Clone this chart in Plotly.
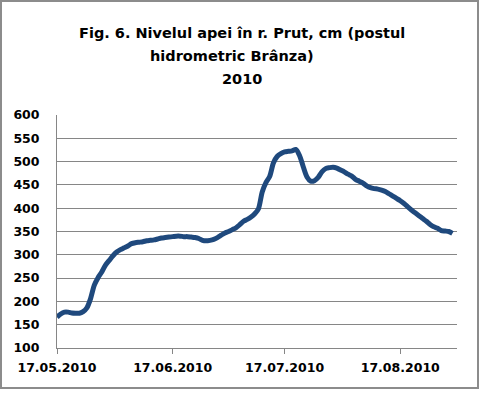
import plotly.graph_objects as go
import pandas as pd

title_lines = ["Fig. 6. Nivelul apei în r. Prut, cm (postul", "hidrometric Brânza)", "2010"]
start_date = "2010-05-17"
water_level = [
    166, 173, 177, 177, 175, 174.5, 174.5, 178, 186, 206,
    235, 251, 263, 278, 288, 298, 306, 311, 315, 319,
    324, 326, 327, 328, 330, 331, 332, 334, 336, 337,
    338, 339, 340, 340, 339, 339, 338, 337, 335, 331,
    330, 331, 333, 337, 342, 347, 350, 354, 358, 365,
    372, 376, 381, 388, 399, 435, 455, 468, 497, 511,
    517, 521, 522, 523, 526, 513, 489, 467, 458, 459,
    466, 478, 485, 487, 488, 486, 482, 478, 473, 469,
    462, 458, 454, 448, 444, 442, 441, 439, 436, 431,
    426, 421, 416, 410, 403, 396, 390, 384, 378, 372,
    365, 360, 357, 352, 351, 350, 346,
]
tick_dates = ["2010-05-17", "2010-06-17", "2010-07-17", "2010-08-17"]
tick_labels = ["17.05.2010", "17.06.2010", "17.07.2010", "17.08.2010"]
y_ticks = [100, 150, 200, 250, 300, 350, 400, 450, 500, 550, 600]

dates = pd.date_range(start_date, periods=len(water_level), freq="D")

fig = go.Figure()
fig.add_trace(go.Scatter(
    x=dates, y=water_level, mode="lines",
    line=dict(color="#1F497D", width=5, shape="spline", smoothing=0.8),
    hoverinfo="skip", showlegend=False,
))

grid = "#868686"
tfont = dict(family="DejaVu Sans", size=12.5, color="black", weight="bold")
fig.update_layout(
    width=481, height=393,
    margin=dict(l=57, r=24, t=115, b=45),
    paper_bgcolor="white", plot_bgcolor="white",
    xaxis=dict(
        type="date",
        range=["2010-05-17", "2010-09-01 05:00"],
        tickvals=tick_dates, ticktext=tick_labels,
        showgrid=False, zeroline=False,
        showline=True, linecolor=grid, linewidth=1,
        ticks="outside", ticklen=5, tickcolor=grid, tickwidth=1,
        tickfont=tfont,
        ticklabelstandoff=3,
    ),
    yaxis=dict(
        range=[100, 600], tickvals=y_ticks,
        showgrid=True, gridcolor=grid, gridwidth=1, zeroline=False,
        showline=True, linecolor=grid, linewidth=1,
        ticks="", tickfont=tfont,
        ticklabelstandoff=14,
    ),
)

# title lines
title_pos = [(241.5, 33), (231.5, 56), (241.5, 79)]
for txt, (px, py) in zip(title_lines, title_pos):
    fig.add_annotation(
        text=txt, showarrow=False,
        xref="paper", yref="paper",
        x=(px - 57) / 400, y=(348 - py) / 233,
        xanchor="center", yanchor="middle",
        font=dict(family="DejaVu Sans", size=14.5, color="black", weight="bold"),
    )

# outer chart border
fig.add_shape(
    type="rect", xref="paper", yref="paper",
    x0=(1 - 57) / 400, x1=(478 - 57) / 400,
    y0=(348 - 388) / 233, y1=(348 - 1) / 233,
    line=dict(color="#8c8c8c", width=2), layer="below",
)

fig.write_html(
    "out.html",
    config={"displayModeBar": False},
    post_script="document.body.style.margin='0';document.body.style.padding='0';",
)
